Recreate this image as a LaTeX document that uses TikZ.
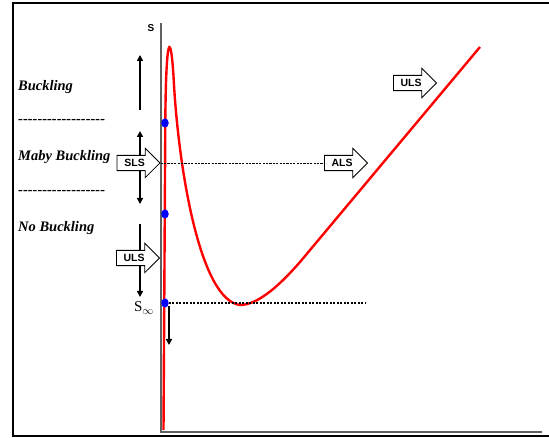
\documentclass[tikz,border=0pt]{standalone}
\usepackage{fontspec}
\setmainfont{Liberation Serif}
\setsansfont{Liberation Sans}
\newfontfamily\rulefont{Liberation Serif}
\usetikzlibrary{arrows.meta,shapes.arrows,shapes.geometric,positioning}

\begin{document}
\begin{tikzpicture}[
      x=1pt, y=-1pt,
      zone/.style={
        font=\fontsize{14.5}{16}\selectfont\bfseries\itshape,
        anchor=west,
        inner sep=0pt
      },
      divider/.style={
        font=\rulefont\fontsize{14.5}{16}\selectfont\bfseries\itshape,
        anchor=west,
        inner sep=0pt
      },
      limit/.style={
        single arrow,
        draw,
        fill=white,
        line width=0.8pt,
        font=\sffamily\bfseries\fontsize{10.5}{12}\selectfont,
        minimum height=43pt,
        single arrow head extend=7pt,
        single arrow head indent=0pt,
        inner xsep=1.5pt,
        inner ysep=3.5pt,
        anchor=tip
      },
      axis/.style={draw=gray!75!black, line width=1.4pt},
      move/.style={line width=1.6pt, -{Triangle[length=6pt,width=6pt]}},
      dot/.style={ellipse, fill=blue, inner sep=0pt, minimum width=7.5pt, minimum height=9pt},
      curve/.style={red, line width=2.4pt}
    ]

    \useasboundingbox (0,0) rectangle (549,438);

    % Frame (right side runs off the page)
    \draw[line width=2pt] (13,3) rectangle (560,436);

    % Axes
    \coordinate (O) at (161,432);
    \coordinate (Ytop) at (161,23);
    \coordinate (Xend) at (542,432);
    \draw[axis] (Ytop) -- (O) -- (Xend);
    \node[font=\sffamily\bfseries\fontsize{10}{11}\selectfont] (slabel) at (151,28) {S};

    % Red curve
    \draw[curve] (163.5,430) -- (165.3,125)
      .. controls (165.8,32) and (171,27) .. (174,85)
      .. controls (179,170) and (200,300) .. (240,305)
      .. controls (258,305) and (280,285) .. (300,262)
      -- (480,47);

    % Points on the curve
    \node[dot] (p1) at (165,123) {};
    \node[dot] (p2) at (165,214) {};
    \node[dot] (p3) at (165,303) {};

    % Zone labels
    \node[zone] (buck) at (18,87) {Buckling};
    \node[divider] (div1) at (18,121) {------------------};
    \node[zone] (maby) at (18,157) {Maby Buckling};
    \node[divider] (div2) at (18,192) {------------------};
    \node[zone] (nobuck) at (18,228) {No Buckling};
    \node[font=\fontsize{15}{16}\selectfont] (sinf) at (144,308) {S$_\infty$};

    % Movement arrows
    \coordinate (a1) at (140,110);
    \coordinate (a1e) at (140,55);
    \coordinate (a2) at (140,131);
    \coordinate (a2e) at (140,204);
    \coordinate (a3) at (140,224);
    \coordinate (a3e) at (140,297);
    \coordinate (a4) at (169,306);
    \coordinate (a4e) at (169,345);
    \draw[move] (a1) -- (a1e);
    \draw[move, {Triangle[length=6pt,width=6pt]}-{Triangle[length=6pt,width=6pt]}] (a2) -- (a2e);
    \draw[move] (a3) -- (a3e);
    \draw[move] (a4) -- (a4e);

    % Limit states
    \node[limit] (sls) at (160.5,163) {SLS};
    \node[limit] (ulsl) at (160,258) {ULS};
    \node[limit] (als) at (368,163) {ALS};
    \node[limit] (ulsr) at (437,83) {ULS};

    % Reference lines
    \draw[line width=0.9pt, dash pattern=on 2.2pt off 1.2pt] (sls.tip) -- (als.tail);
    \coordinate (dend) at (366,303);
    \draw[line width=2pt, dash pattern=on 2pt off 1.5pt] (p3) -- (dend);

  \end{tikzpicture}
\end{document}
